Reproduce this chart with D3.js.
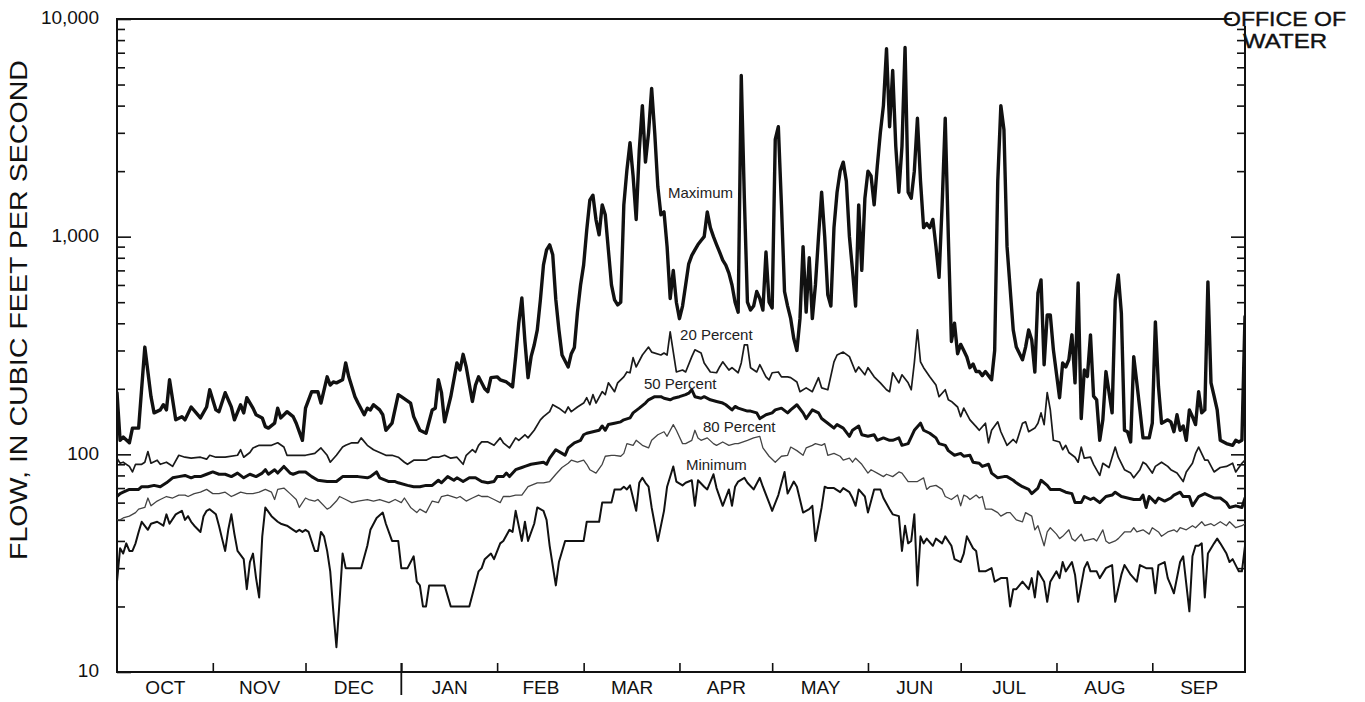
<!DOCTYPE html>
<html>
<head>
<meta charset="utf-8">
<script src="https://cdn.jsdelivr.net/npm/d3@7"></script>
<style>
  html, body { margin: 0; padding: 0; background: #fff; }
  svg { display: block; }
</style>
</head>
<body>
<svg id="chart" width="1365" height="702"></svg>
<script>
// Daily flow statistics for the water year (day 0 = October 1).
// Each series: [day of water year, flow in cubic feet per second]

const monthNames = ["OCT", "NOV", "DEC", "JAN", "FEB", "MAR", "APR", "MAY", "JUN", "JUL", "AUG", "SEP"];
const monthStartDays = [0, 31, 61, 92, 123, 151, 182, 212, 243, 273, 304, 335, 365];
const calendarYearStart = 92;
const labeledFlowTicks = [10, 100, 1000, 10000];

const maximumFlow = [[0,192],[1,116],[2,120],[4,113],[5,132],[7,132],[9,311],[11,184],[12,155],[14,160],[15,169],[16,160],[17,220],[19,144],[21,149],[22,144],[24,165],[27,147],[29,165],[30,198],[32,160],[33,157],[35,192],[37,165],[38,144],[40,169],[41,155],[42,182],[44,163],[45,152],[47,147],[48,134],[49,132],[51,139],[52,163],[53,147],[55,157],[57,149],[58,139],[60,116],[61,163],[63,194],[65,194],[66,172],[68,227],[69,208],[70,215],[71,213],[73,220],[74,263],[75,227],[77,184],[78,172],[80,152],[81,163],[82,160],[83,169],[85,160],[86,152],[87,129],[89,139],[91,188],[92,184],[95,172],[96,149],[98,129],[100,125],[102,160],[103,163],[104,220],[105,192],[106,141],[108,184],[110,263],[111,244],[112,288],[113,252],[115,175],[116,208],[117,227],[119,200],[120,194],[121,225],[123,227],[124,220],[126,215],[128,204],[129,281],[130,400],[131,523],[132,330],[133,225],[134,281],[135,318],[136,373],[137,512],[138,742],[139,870],[140,917],[141,825],[142,512],[143,373],[144,286],[146,252],[147,290],[148,310],[149,450],[150,600],[151,742],[152,1075],[153,1470],[154,1550],[155,1195],[156,1020],[157,1400],[158,1260],[159,870],[160,600],[161,512],[162,486],[163,500],[164,1400],[165,2025],[166,2700],[167,1900],[168,1200],[169,2500],[170,4000],[171,2200],[172,3000],[173,4800],[174,3000],[175,1700],[176,1260],[177,1300],[178,900],[179,520],[180,700],[181,500],[182,420],[183,480],[184,600],[185,750],[186,820],[187,870],[188,920],[189,960],[190,1000],[191,1300],[192,1100],[193,1000],[194,920],[195,850],[196,780],[197,740],[198,680],[199,600],[200,500],[201,450],[202,5500],[203,1500],[204,500],[205,460],[206,480],[207,560],[208,520],[209,460],[210,850],[211,500],[212,470],[213,2800],[214,3200],[215,1400],[216,560],[217,480],[218,420],[219,340],[220,300],[221,420],[222,900],[223,450],[224,800],[225,420],[226,600],[227,1000],[228,1600],[229,1000],[230,540],[231,480],[232,1100],[233,1600],[234,2000],[235,2200],[236,1800],[237,1000],[238,700],[239,480],[240,1400],[241,700],[242,1500],[243,2000],[244,1900],[245,1400],[246,2100],[247,3000],[248,4000],[249,7300],[250,3200],[251,5800],[252,2600],[253,1600],[254,2600],[255,7400],[256,1600],[257,1500],[258,2000],[259,3500],[260,1800],[261,1100],[262,1150],[263,1100],[264,1200],[265,900],[266,650],[267,1400],[268,3500],[269,1000],[270,330],[271,400],[272,290],[273,320],[274,300],[275,280],[276,250],[277,260],[278,240],[279,240],[280,230],[281,240],[282,230],[283,220],[284,300],[285,1800],[286,4000],[287,3100],[288,900],[290,373],[291,311],[293,272],[294,311],[295,373],[296,335],[297,239],[298,552],[299,633],[300,258],[301,437],[302,437],[303,302],[305,182],[306,263],[307,252],[308,272],[309,354],[310,213],[311,613],[312,146],[313,244],[314,228],[315,354],[316,185],[317,178],[318,116],[319,144],[320,240],[322,155],[323,512],[324,667],[325,444],[326,129],[327,127],[328,114],[329,281],[330,213],[331,160],[332,119],[334,119],[335,139],[336,406],[337,205],[338,139],[340,144],[341,141],[342,127],[343,152],[344,129],[345,135],[346,116],[347,160],[348,149],[349,137],[350,194],[351,155],[352,160],[353,620],[354,213],[355,185],[356,160],[357,116],[359,112],[361,110],[362,116],[363,114],[364,116],[365,430]];

const percent20Flow = [[0,96],[1,91],[2,92],[4,88],[5,83],[6,90],[8,90],[9,92],[10,103],[11,91],[13,94],[14,90],[16,92],[17,90],[18,88],[20,99],[22,97],[24,96],[27,97],[29,95],[30,99],[32,97],[35,97],[39,99],[40,105],[41,97],[43,102],[44,107],[46,110],[48,110],[50,110],[52,113],[54,108],[55,99],[58,99],[61,99],[64,101],[66,107],[68,99],[69,92],[71,99],[73,108],[74,110],[76,113],[78,113],[79,119],[81,110],[83,105],[85,102],[87,99],[89,99],[91,97],[93,92],[94,90],[96,94],[98,94],[100,94],[102,97],[104,97],[106,99],[108,96],[110,97],[112,90],[113,99],[115,105],[116,102],[117,110],[118,114],[120,114],[122,110],[124,119],[125,113],[127,107],[129,119],[130,116],[132,123],[133,119],[135,129],[137,144],[138,149],[140,157],[141,169],[143,163],[145,155],[146,165],[147,157],[149,165],[151,172],[152,182],[153,169],[154,188],[155,172],[157,194],[158,188],[159,213],[161,194],[162,213],[164,227],[165,239],[166,237],[167,278],[168,252],[170,286],[172,311],[173,295],[176,286],[177,292],[178,286],[179,365],[181,239],[183,244],[184,239],[186,281],[187,302],[189,292],[190,263],[192,239],[194,237],[195,252],[196,266],[198,244],[199,250],[201,237],[202,263],[203,318],[204,318],[205,250],[207,239],[208,258],[210,227],[211,220],[212,237],[214,239],[215,227],[217,227],[218,225],[220,215],[221,194],[223,202],[225,194],[227,225],[228,202],[230,198],[232,266],[233,286],[235,295],[237,281],[239,239],[240,252],[242,232],[243,250],[245,227],[247,213],[249,198],[250,194],[251,237],[253,213],[254,232],[256,213],[257,198],[258,263],[259,373],[260,266],[261,250],[263,227],[265,208],[266,184],[268,198],[269,178],[270,175],[272,165],[273,149],[274,163],[276,144],[278,134],[279,129],[281,139],[282,113],[283,129],[285,141],[286,127],[288,110],[290,117],[291,113],[293,139],[294,141],[295,127],[297,132],[298,139],[299,155],[300,137],[301,192],[302,160],[303,116],[305,114],[306,105],[307,110],[308,102],[310,97],[311,92],[312,108],[313,96],[315,97],[316,90],[318,80],[319,91],[321,87],[323,108],[324,97],[326,85],[328,82],[329,78],[331,85],[332,92],[333,90],[335,82],[336,88],[338,92],[340,88],[341,85],[343,82],[345,75],[346,83],[348,91],[349,101],[350,108],[352,94],[353,94],[355,83],[357,87],[359,88],[361,91],[362,83],[364,91],[365,94]];

const percent50Flow = [[0,64],[1,66],[2,67],[4,69],[7,69],[8,71],[10,71],[12,72],[14,71],[16,74],[18,78],[20,79],[22,80],[24,78],[25,79],[27,79],[29,81],[31,83],[33,81],[35,81],[37,79],[39,82],[41,78],[43,81],[45,79],[47,82],[48,85],[49,81],[51,85],[52,82],[54,88],[56,82],[57,81],[59,83],[61,83],[63,79],[65,76],[68,75],[71,75],[73,79],[76,79],[78,79],[81,78],[82,79],[84,83],[85,78],[88,75],[90,75],[91,74],[94,72],[96,71],[98,71],[100,72],[102,72],[104,76],[105,74],[107,79],[109,76],[110,78],[112,75],[114,78],[116,78],[118,75],[120,74],[122,75],[123,79],[125,79],[126,82],[127,79],[129,85],[131,87],[132,88],[134,90],[136,91],[138,92],[139,90],[140,96],[142,105],[144,101],[145,99],[146,107],[148,113],[150,116],[151,123],[152,125],[154,127],[156,129],[157,135],[158,129],[159,137],[161,139],[163,141],[164,144],[166,147],[167,155],[169,163],[171,172],[172,178],[174,184],[176,184],[177,181],[179,178],[180,181],[182,184],[184,188],[185,191],[186,198],[187,184],[189,181],[190,184],[192,178],[194,175],[196,172],[197,169],[199,160],[200,166],[201,163],[204,158],[205,158],[207,155],[208,146],[210,152],[212,155],[213,160],[215,163],[217,155],[218,160],[220,169],[222,155],[223,146],[225,160],[227,155],[228,146],[230,139],[232,132],[233,137],[235,132],[237,121],[238,129],[240,135],[241,123],[243,121],[245,123],[246,116],[248,119],[250,116],[251,116],[253,119],[254,110],[256,112],[258,129],[260,139],[261,129],[263,125],[265,119],[266,112],[268,110],[269,104],[271,99],[273,101],[274,98],[276,99],[277,92],[279,91],[280,88],[282,90],[283,82],[285,78],[287,79],[288,79],[290,76],[291,74],[293,71],[295,69],[296,66],[298,70],[299,76],[301,72],[302,69],[304,69],[305,69],[307,67],[309,66],[310,60],[312,60],[313,64],[315,62],[316,63],[318,60],[320,64],[322,65],[323,67],[325,64],[327,63],[329,62],[331,62],[332,65],[333,57],[334,64],[336,60],[337,63],[339,61],[341,63],[342,65],[344,67],[345,64],[347,64],[348,58],[350,64],[352,66],[353,65],[355,63],[357,63],[359,60],[360,57],[362,58],[364,57],[365,63]];

const percent80Flow = [[0,50],[1,50],[2,51],[4,52],[6,54],[7,56],[9,57],[10,63],[11,58],[13,61],[14,62],[16,64],[18,63],[20,65],[22,65],[23,64],[25,66],[27,67],[29,69],[31,66],[33,66],[35,67],[37,64],[38,65],[40,67],[42,66],[44,66],[46,67],[48,69],[50,67],[51,62],[52,69],[54,70],[56,66],[58,62],[59,57],[61,63],[62,62],[64,61],[65,62],[68,56],[69,57],[71,61],[72,64],[74,62],[76,60],[78,61],[81,62],[83,61],[85,62],[88,60],[90,62],[92,60],[93,63],[95,57],[97,54],[98,56],[100,54],[102,61],[104,60],[105,64],[107,65],[110,63],[111,64],[113,61],[115,63],[117,65],[118,64],[120,64],[122,62],[124,60],[125,64],[127,64],[129,65],[131,65],[133,71],[136,74],[138,74],[140,75],[142,81],[144,87],[146,91],[147,94],[149,92],[151,94],[152,90],[153,85],[155,82],[157,90],[158,98],[160,99],[161,99],[163,98],[164,101],[165,112],[167,110],[168,116],[170,110],[172,107],[173,116],[175,123],[177,127],[178,121],[180,137],[181,129],[183,112],[184,112],[186,116],[187,129],[188,119],[189,116],[191,119],[193,112],[194,110],[196,114],[198,110],[200,112],[201,112],[204,116],[206,119],[208,121],[209,107],[211,98],[213,92],[215,98],[217,99],[218,108],[220,104],[222,99],[223,107],[225,110],[226,112],[228,110],[229,112],[230,99],[232,101],[234,98],[235,94],[237,96],[238,92],[239,96],[241,90],[243,82],[244,85],[246,82],[248,79],[249,81],[251,79],[253,83],[254,82],[256,75],[258,75],[259,75],[261,78],[262,69],[263,71],[265,72],[267,69],[268,64],[270,62],[272,65],[273,58],[274,65],[275,64],[276,62],[278,65],[279,63],[280,64],[281,56],[283,56],[285,54],[286,52],[288,54],[289,54],[291,50],[293,49],[294,54],[296,52],[297,45],[298,47],[300,38],[301,44],[302,46],[304,43],[305,41],[306,42],[308,45],[309,41],[310,40],[312,43],[313,40],[316,41],[317,40],[319,45],[320,40],[321,39],[323,40],[324,41],[326,44],[328,44],[329,46],[330,44],[332,45],[334,43],[335,46],[337,44],[338,42],[340,44],[342,45],[343,44],[344,46],[346,45],[348,47],[349,46],[351,49],[352,47],[354,48],[355,47],[357,49],[359,47],[360,49],[362,46],[364,47],[365,48]];

const minimumFlow = [[0,26],[1,37],[2,35],[3,39],[4,36],[5,36],[6,39],[7,44],[8,49],[10,45],[11,48],[13,49],[15,47],[16,53],[17,48],[19,53],[21,55],[22,50],[23,52],[24,49],[25,47],[27,44],[28,52],[29,55],[30,56],[32,53],[33,47],[34,41],[35,36],[36,45],[37,53],[38,43],[39,36],[41,33],[42,24],[43,32],[44,35],[45,27],[46,22],[47,42],[48,57],[50,52],[52,49],[53,48],[55,47],[57,45],[58,44],[59,45],[60,44],[61,45],[62,44],[64,36],[65,36],[66,44],[67,42],[68,36],[69,29],[70,19],[71,13],[72,21],[73,35],[74,30],[79,30],[81,38],[82,45],[84,51],[86,54],[87,48],[89,40],[91,40],[92,30],[94,30],[96,34],[97,26],[98,25],[99,20],[100,20],[101,25],[106,25],[108,20],[114,20],[117,29],[118,30],[119,33],[121,35],[122,33],[124,39],[125,40],[127,45],[128,44],[129,55],[131,40],[132,49],[133,40],[135,48],[136,57],[138,55],[139,50],[140,38],[142,25],[143,32],[145,40],[151,40],[152,49],[156,49],[157,60],[160,60],[161,69],[163,69],[164,71],[165,69],[166,72],[168,55],[169,74],[170,78],[171,74],[172,71],[173,57],[175,40],[177,55],[178,71],[180,88],[181,75],[183,72],[184,74],[186,76],[187,58],[188,76],[190,71],[191,69],[193,81],[194,70],[196,58],[198,69],[199,58],[200,71],[201,75],[203,78],[204,74],[206,69],[208,78],[209,71],[211,60],[212,55],[214,65],[216,83],[217,66],[219,75],[220,71],[222,54],[224,56],[225,58],[226,40],[228,57],[229,71],[230,70],[232,70],[234,67],[235,70],[237,67],[238,63],[239,58],[240,69],[242,64],[243,54],[245,69],[247,69],[248,63],[250,56],[251,53],[253,52],[254,36],[255,47],[256,39],[257,40],[258,53],[259,25],[260,42],[261,39],[262,41],[264,38],[265,41],[267,39],[268,42],[270,38],[271,33],[273,32],[274,35],[275,42],[277,37],[278,36],[279,29],[281,29],[283,30],[284,26],[286,27],[288,27],[289,20],[290,24],[291,24],[293,26],[295,24],[296,27],[297,22],[298,29],[300,26],[301,21],[302,26],[304,29],[305,27],[306,32],[307,29],[309,32],[310,28],[311,21],[313,30],[314,32],[315,29],[317,29],[318,27],[320,30],[322,31],[323,21],[325,28],[326,31],[328,28],[330,26],[331,31],[333,30],[335,30],[336,23],[337,31],[339,32],[340,27],[341,25],[342,23],[344,32],[345,34],[347,19],[348,34],[349,38],[350,38],[351,39],[352,22],[353,35],[355,39],[356,41],[357,39],[359,35],[360,32],[361,33],[363,29],[364,29],[365,38]];

// Series labels are anchored in data units (day, flow)
const seriesLabels = [
  { text: "Maximum",    day: 178.3, flow: 1500 },
  { text: "20 Percent", day: 182.2, flow: 335 },
  { text: "50 Percent", day: 170.5, flow: 200 },
  { text: "80 Percent", day: 189.6, flow: 127 },
  { text: "Minimum",    day: 184.1, flow: 85 }
];

const FONT = "'Liberation Sans', Arial, Helvetica, sans-serif";
const svg = d3.select("#chart");

const plot = { left: 117, right: 1245, top: 19, bottom: 672 };
const x = d3.scaleLinear().domain([0, 365]).range([plot.left, plot.right]);
const y = d3.scaleLog().domain([10, 10000]).range([plot.bottom, plot.top]);

svg.append("rect").attr("width", 1365).attr("height", 702).attr("fill", "#fff");

svg.append("clipPath").attr("id", "plot-clip")
  .append("rect")
  .attr("x", plot.left).attr("y", plot.top - 2)
  .attr("width", plot.right - plot.left).attr("height", plot.bottom - plot.top + 2);

// Minor (unlabeled) flow ticks: 2–9 within each decade
const minorFlowTicks = [];
[10, 100, 1000].forEach(base => {
  for (let m = 2; m <= 9; m++) minorFlowTicks.push(base * m);
});

function styleAxis(g) {
  g.select(".domain").remove();
  g.selectAll(".tick line").attr("stroke", "#111").attr("stroke-width", 1.6);
  g.selectAll("text").attr("font-family", FONT).attr("fill", "#111");
}

// Left axis: inward ticks
svg.append("g").attr("transform", `translate(${plot.left},0)`)
  .call(d3.axisLeft(y).tickValues(minorFlowTicks).tickSizeInner(-8).tickSizeOuter(0).tickFormat(""))
  .call(styleAxis);
svg.append("g").attr("transform", `translate(${plot.left},0)`)
  .call(d3.axisLeft(y).tickValues(labeledFlowTicks).tickSizeInner(-14).tickSizeOuter(0)
    .tickPadding(18).tickFormat(d3.format(",")))
  .call(styleAxis)
  .call(g => g.selectAll("text").attr("font-size", 19).attr("dy", "0.26em"));

// Right axis: inward ticks, no labels
svg.append("g").attr("transform", `translate(${plot.right},0)`)
  .call(d3.axisRight(y).tickValues(minorFlowTicks).tickSizeInner(-8).tickSizeOuter(0).tickFormat(""))
  .call(styleAxis);
svg.append("g").attr("transform", `translate(${plot.right},0)`)
  .call(d3.axisRight(y).tickValues(labeledFlowTicks.slice(1, 3)).tickSizeInner(-14).tickSizeOuter(0).tickFormat(""))
  .call(styleAxis);

// Bottom axis: month boundary ticks pointing inward, month names centered
const innerBoundaries = monthStartDays.slice(1, -1);
svg.append("g").attr("transform", `translate(0,${plot.bottom})`)
  .call(d3.axisBottom(x).tickValues(innerBoundaries).tickSizeInner(-9).tickSizeOuter(0).tickFormat(""))
  .call(styleAxis);

const monthMids = monthNames.map((m, i) => (monthStartDays[i] + monthStartDays[i + 1]) / 2);
svg.append("g").attr("transform", `translate(0,${plot.bottom})`)
  .call(d3.axisBottom(x).tickValues(monthMids).tickSize(0).tickPadding(9)
    .tickFormat((d, i) => monthNames[i]))
  .call(styleAxis)
  .call(g => g.selectAll("text").attr("font-size", 19));

// Calendar-year break below the axis
svg.append("line")
  .attr("x1", x(calendarYearStart)).attr("x2", x(calendarYearStart))
  .attr("y1", plot.bottom - 9).attr("y2", plot.bottom + 23)
  .attr("stroke", "#111").attr("stroke-width", 1.8);

// Plot frame; the top-right corner gives way to the agency mark
svg.append("path")
  .attr("d", `M${plot.right - 13},${plot.top}H${plot.left}V${plot.bottom}H${plot.right}V${plot.top + 7}`)
  .attr("fill", "none").attr("stroke", "#111").attr("stroke-width", 2);

// Flow series
const series = [
  { data: maximumFlow,   width: 3.4, color: "#111" },
  { data: percent20Flow, width: 1.7, color: "#1a1a1a" },
  { data: percent50Flow, width: 3.0, color: "#111" },
  { data: percent80Flow, width: 1.3, color: "#444" },
  { data: minimumFlow,   width: 2.0, color: "#111" }
];
const line = d3.line().x(d => x(d[0])).y(d => y(d[1]));

svg.append("g").attr("clip-path", "url(#plot-clip)")
  .selectAll("path").data(series).join("path")
  .attr("d", s => line(s.data))
  .attr("fill", "none")
  .attr("stroke", s => s.color)
  .attr("stroke-width", s => s.width)
  .attr("stroke-linejoin", "round")
  .attr("stroke-linecap", "round");

// Series labels
svg.append("g").selectAll("text").data(seriesLabels).join("text")
  .attr("x", d => x(d.day)).attr("y", d => y(d.flow))
  .attr("font-family", FONT).attr("font-size", 15).attr("fill", "#222")
  .text(d => d.text);

// Axis title
svg.append("text")
  .attr("transform", "translate(27,310) rotate(-90)")
  .attr("text-anchor", "middle")
  .attr("font-family", FONT).attr("font-size", 24).attr("fill", "#111")
  .attr("textLength", 500).attr("lengthAdjust", "spacingAndGlyphs")
  .text("FLOW, IN CUBIC FEET PER SECOND");

// Agency mark, top right
svg.append("text")
  .attr("x", 1223).attr("y", 26)
  .attr("font-family", FONT).attr("font-size", 21).attr("fill", "#111")
  .attr("stroke", "#111").attr("stroke-width", 0.4)
  .attr("textLength", 123).attr("lengthAdjust", "spacingAndGlyphs")
  .text("OFFICE OF");
svg.append("text")
  .attr("x", 1243).attr("y", 48)
  .attr("font-family", FONT).attr("font-size", 21).attr("fill", "#111")
  .attr("stroke", "#111").attr("stroke-width", 0.4)
  .attr("textLength", 84).attr("lengthAdjust", "spacingAndGlyphs")
  .text("WATER");
</script>
</body>
</html>
